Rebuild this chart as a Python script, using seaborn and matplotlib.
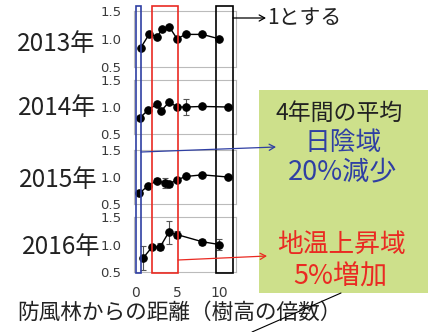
import matplotlib
matplotlib.use("Agg")
import matplotlib.pyplot as plt
import pandas as pd
import seaborn as sns
from matplotlib.patches import Rectangle, FancyArrowPatch

# Relative soil temperature index by distance from the windbreak (multiples of tree height)
years = ["2013年", "2014年", "2015年", "2016年"]

dist_2013 = [0.68, 1.67, 2.65, 3.2, 4.05, 5, 6, 8, 10]
value_2013 = [0.84, 1.08, 1.04, 1.17, 1.22, 1.00, 1.08, 1.08, 1.00]
err_2013 = [0.02, 0.02, 0.02, 0.02, 0.02, 0.02, 0.02, 0.02, 0.02]

dist_2014 = [0.6, 1.58, 2.58, 3.1, 4.05, 5.04, 6.04, 8, 11]
value_2014 = [0.80, 0.95, 1.05, 0.93, 1.09, 1.00, 1.00, 1.01, 1.00]
err_2014 = [0.03, 0.02, 0.03, 0.05, 0.02, 0.03, 0.15, 0.03, 0.03]

dist_2015 = [0.51, 1.58, 2.58, 3.57, 4.05, 5.04, 6.04, 8, 11]
value_2015 = [0.70, 0.84, 0.93, 0.89, 0.87, 0.95, 1.01, 1.04, 1.00]
err_2015 = [0.02, 0.03, 0.05, 0.10, 0.05, 0.03, 0.02, 0.02, 0.02]

dist_2016 = [1, 2, 3, 4, 5, 8, 10]
value_2016 = [0.76, 0.95, 0.96, 1.22, 1.18, 1.05, 1.00]
err_2016 = [0.22, 0.04, 0.06, 0.21, 0.06, 0.05, 0.10]

y_ticks = [0.5, 1.0, 1.5]
x_ticks = [0, 5, 10]

series = [
    (dist_2013, value_2013, err_2013),
    (dist_2014, value_2014, err_2014),
    (dist_2015, value_2015, err_2015),
    (dist_2016, value_2016, err_2016),
]

sns.set_style("white")
plt.rcParams["font.family"] = ["Noto Sans CJK JP", "DejaVu Sans"]

W, H = 440, 332
fig = plt.figure(figsize=(W / 100, H / 100), dpi=100)

# panel frames in pixel rows (top, bottom)
panel_rows = [(11, 66.7), (80, 134), (150, 204), (217, 272)]
left_px, right_px = 134, 236

for i, ((top, bot), (xs, ys, es)) in enumerate(zip(panel_rows, series)):
    ax = fig.add_axes([left_px / W, 1 - bot / H, (right_px - left_px) / W, (bot - top) / H])
    df = pd.DataFrame({"dist": xs, "value": ys})
    ax.errorbar(xs, ys, yerr=es, fmt="none", ecolor="#555555", elinewidth=0.8,
                capsize=2, capthick=0.8, zorder=2)
    sns.lineplot(data=df, x="dist", y="value", ax=ax, color="black", lw=1.0,
                 marker="o", markersize=5.4, markeredgecolor="black", zorder=3)
    ax.set_xlim(-0.12, 12.0)
    ax.set_ylim(0.5, 1.5)
    ax.set_yticks(y_ticks)
    ax.set_yticklabels([f"{v:.1f}" for v in y_ticks], family="DejaVu Sans",
                       fontsize=9.5, color="#3A3A3A")
    ax.tick_params(axis="y", length=0, pad=9)
    ax.set_xlabel("")
    ax.set_ylabel("")
    for s in ax.spines.values():
        s.set_color("#BBBBBB")
        s.set_linewidth(0.8)
    if i == 3:
        ax.set_xticks(x_ticks)
        ax.set_xticklabels([str(v) for v in x_ticks], family="DejaVu Sans",
                           fontsize=10, color="#3A3A3A")
        ax.tick_params(axis="x", length=3, color="#BBBBBB", pad=7)
    else:
        ax.set_xticks([])
    ax.patch.set_alpha(0)

# annotation layer in pixel coordinates
ov = fig.add_axes([0, 0, 1, 1], zorder=10)
ov.set_xlim(0, W)
ov.set_ylim(H, 0)
ov.axis("off")
ov.patch.set_alpha(0)

ov.add_patch(Rectangle((259, 90), 168.7, 203, facecolor="#CDE08B", edgecolor="none", zorder=1))

blue = "#2F3FA3"
red = "#EA2A22"
for (x0, x1), col in [((136, 141), blue), ((152, 178), red), ((216, 233), "black")]:
    ov.add_patch(Rectangle((x0, 6), x1 - x0, 267, fill=False, edgecolor=col, lw=1.2, zorder=3))

for (p0, p1, col) in [((233, 18), (266, 18), "black"),
                      ((141, 152), (276, 147), blue),
                      ((178, 260), (267, 256), red)]:
    ov.add_patch(FancyArrowPatch(p0, p1, arrowstyle="->,head_length=4,head_width=2.2",
                                 color=col, lw=0.9, mutation_scale=1, zorder=4,
                                 shrinkA=0, shrinkB=0))
ov.plot([252, 341], [332, 293], color="black", lw=0.8, zorder=4)

for label, (cx, cy) in zip(years, [(56, 44), (57, 108), (58, 180), (61, 247)]):
    ov.text(cx, cy, label, ha="center", va="center", fontsize=17.5, color="#222222")

ov.text(267, 18, "1とする", ha="left", va="center", fontsize=15, color="#222222")
ov.text(339, 113, "4年間の平均", ha="center", va="center", fontsize=16.5, color="#222222", zorder=5)
ov.text(343, 143, "日陰域", ha="center", va="center", fontsize=18.5, color=blue, zorder=5)
ov.text(343, 172, "20%減少", ha="center", va="center", fontsize=19.5, color=blue, zorder=5)
ov.text(341, 245, "地温上昇域", ha="center", va="center", fontsize=18.5, color=red, zorder=5)
ov.text(340, 277, "5%増加", ha="center", va="center", fontsize=19.5, color=red, zorder=5)
ov.text(17, 313, "防風林からの距離（樹高の倍数）", ha="left", va="center", fontsize=15.6,
        color="#222222")

fig.savefig("out.png", dpi=100)
